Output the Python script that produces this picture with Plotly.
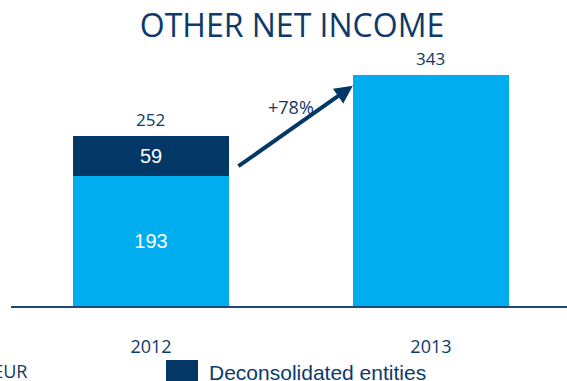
import plotly.graph_objects as go

years = ["2012", "2013"]
other_income = [193, 343]
deconsolidated = [59, 0]
totals = [252, 343]
growth_label = "+78%"
title_text = "OTHER NET INCOME"
legend_label = "Deconsolidated entities"
unit_label = "MEUR"

LIGHT = "#00adef"
NAVY = "#023766"
TXT = "#0b3a6b"

xs = list(range(len(years)))

fig = go.Figure()
fig.add_trace(go.Bar(
    x=xs, y=other_income, marker=dict(color=LIGHT, line=dict(width=0)),
    text=[str(v) if i == 0 else "" for i, v in enumerate(other_income)],
    textposition="inside", insidetextanchor="middle",
    textfont=dict(family="Liberation Sans", size=20, color="white"),
    width=0.557, showlegend=False,
))
fig.add_trace(go.Bar(
    x=xs, y=deconsolidated, marker=dict(color=NAVY, line=dict(width=0)),
    text=[str(v) if v else "" for v in deconsolidated],
    textposition="inside", insidetextanchor="middle",
    textfont=dict(family="Liberation Sans", size=20, color="white"),
    width=0.557, showlegend=False,
))

for x, t in zip(xs, totals):
    fig.add_annotation(x=x, y=t, text=str(t), showarrow=False, yanchor="bottom",
                       yshift=3, font=dict(family="Open Sans", size=17, color=TXT))

# growth arrow
fig.add_annotation(x=0.721, y=327, ax=0.307, ay=206, xref="x", yref="y",
                   axref="x", ayref="y", text="", showarrow=True,
                   arrowhead=2, arrowsize=0.9, arrowwidth=4, arrowcolor=NAVY)
fig.add_annotation(x=(291-151)/280, y=(306-107)/0.673, text=growth_label, showarrow=False,
                   font=dict(family="Open Sans", size=18, color=TXT))

# legend (drawn)
fig.add_shape(type="rect", xref="paper", yref="paper",
              x0=(166-11)/556, x1=(198-11)/556, y0=-(381-306)/266-0.02, y1=-(360-306)/266,
              fillcolor=NAVY, line=dict(width=0))
fig.add_annotation(xref="paper", yref="paper", x=(207-11)/556, y=-(372-306)/266,
                   xanchor="left", yanchor="middle", text=legend_label, showarrow=False,
                   font=dict(family="Liberation Sans", size=21, color=TXT))
fig.add_annotation(xref="paper", yref="paper", x=(29-11)/556, y=-(371-306)/266,
                   xanchor="right", yanchor="middle", text=unit_label, showarrow=False,
                   font=dict(family="Open Sans", size=18, color=TXT))

fig.update_layout(
    width=567, height=381,
    margin=dict(l=11, r=0, t=40, b=75),
    paper_bgcolor="white", plot_bgcolor="white",
    barmode="stack", bargap=0,
    title=dict(text=title_text, x=292/567, xanchor="center", y=1-26/381, yanchor="middle",
               font=dict(family="Open Sans", size=32, color=TXT)),
    xaxis=dict(range=[-0.5, 1.486], tickvals=xs, ticktext=years, showgrid=False,
               zeroline=False, showline=True, linecolor="#1c4a78", linewidth=2,
               ticks="", ticklabelstandoff=23,
               tickfont=dict(family="Open Sans", size=18, color=TXT)),
    yaxis=dict(range=[0, 395], visible=False, showgrid=False, zeroline=False),
    uniformtext=dict(mode=False),
)

fig.write_html("out.html", config={"displayModeBar": False},
               post_script="document.body.style.margin='0';document.body.style.overflow='hidden';")
